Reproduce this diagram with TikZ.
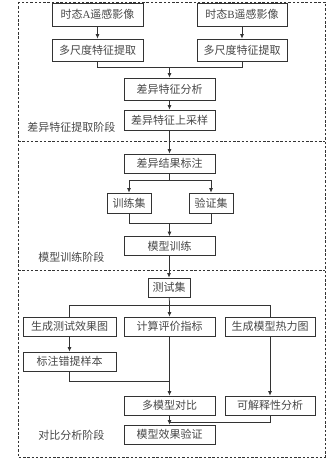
\documentclass[tikz,border=0pt]{standalone}
\usepackage{fontspec}
\setmainfont{Liberation Serif}
\newfontfamily\cjk{Noto Sans CJK SC}
\usetikzlibrary{arrows.meta, positioning}

\begin{document}
\begin{tikzpicture}[
    x=1pt, y=-1pt, >={Latex[length=4.5pt,width=4pt]},
    line width=0.75pt, color=black!80,
    every node/.style={font=\cjk\fontsize{11}{12}\selectfont, text=black!72},
    box/.style={draw=black!80, minimum width=91pt, minimum height=20pt, inner sep=0pt},
    narrow/.style={box, minimum width=44pt},
    stage/.style={draw, dash pattern=on 2.5pt off 1.8pt},
    stagename/.style={anchor=west, inner sep=0pt}]

    \useasboundingbox (0,0) rectangle (335,460);

    % Define stage frames
    \draw[stage] (18,2) rectangle (325,457);
    \draw[stage] (18,141) -- (325,141);
    \draw[stage] (18,270) -- (325,270);

    % Stage 1: feature extraction
    \node[box, minimum height=23pt] (imgA) at (97.5,14.5) {时态{\rmfamily A}遥感影像};
    \node[box, minimum height=23pt, minimum width=90pt] (imgB) at (242,14.5) {时态{\rmfamily B}遥感影像};
    \node[box, minimum height=22pt] (featA) at (97.5,50) {多尺度特征提取};
    \node[box, minimum height=22pt, minimum width=90pt] (featB) at (242,50) {多尺度特征提取};
    \node[box, minimum height=22pt] (diff) at (169.5,89) {差异特征分析};
    \node[box] (upsmp) at (169.5,120) {差异特征上采样};
    \node[stagename] (lab1) at (27,127) {差异特征提取阶段};

    % Stage 2: model training
    \node[box, minimum height=19pt] (mark) at (169.5,163.5) {差异结果标注};
    \node[narrow] (train) at (129,203) {训练集};
    \node[narrow] (valid) at (211,203) {验证集};
    \node[box, minimum height=19pt] (mtrain) at (169.5,246) {模型训练};
    \node[stagename] (lab2) at (38,257) {模型训练阶段};

    % Stage 3: comparison and analysis
    \node[narrow, minimum width=42pt, minimum height=19pt] (test) at (169,287.5) {测试集};
    \node[box, minimum width=93pt, minimum height=19pt] (gen) at (69.5,326.5) {生成测试效果图};
    \node[box, minimum height=19pt] (calc) at (169.5,326.5) {计算评价指标};
    \node[box, minimum width=90pt, minimum height=19pt] (heat) at (270,326.5) {生成模型热力图};
    \node[box, minimum width=93pt, minimum height=19pt] (wrong) at (69.5,361.5) {标注错提样本};
    \node[box, minimum height=19pt] (multi) at (169.5,405.5) {多模型对比};
    \node[box, minimum width=90pt, minimum height=19pt] (expl) at (270,405.5) {可解释性分析};
    \node[box, minimum height=19pt] (verify) at (169.5,434.5) {模型效果验证};
    \node[stagename] (lab3) at (38,435) {对比分析阶段};

    % Junction points
    \coordinate (j1) at (169.5,67);
    \coordinate (j2) at (169.5,180);
    \coordinate (j3) at (169.5,223);
    \coordinate (j4) at (169.5,305);
    \coordinate (j5) at (169.5,381);
    \coordinate (j6) at (169.5,422);

    % Draw connectors
    \draw[->] (imgA) -- (featA);
    \draw[->] (imgB) -- (featB);
    \draw (featA) |- (j1);
    \draw (featB) |- (j1);
    \draw[->] (j1) -- (diff);
    \draw[->] (diff) -- (upsmp);
    \draw[->] (upsmp) -- (mark);
    \draw (mark) -- (j2);
    \draw[->] (j2) -| (train);
    \draw[->] (j2) -| (valid);
    \draw (train) |- (j3);
    \draw (valid) |- (j3);
    \draw[->] (j3) -- (mtrain);
    \draw[->] (mtrain.south -| test) -- (test);
    \draw (test) -- (j4);
    \draw (j4) -| (gen);
    \draw (j4) -| (heat);
    \draw[->] (j4) -- (calc);
    \draw[->] (gen) -- (wrong);
    \draw (wrong) |- (j5);
    \draw[->] (calc) -- (multi);
    \draw[->] (heat) -- (expl);
    \draw (expl) |- (j6);
    \draw[->] (multi) -- (verify);

\end{tikzpicture}
\end{document}
